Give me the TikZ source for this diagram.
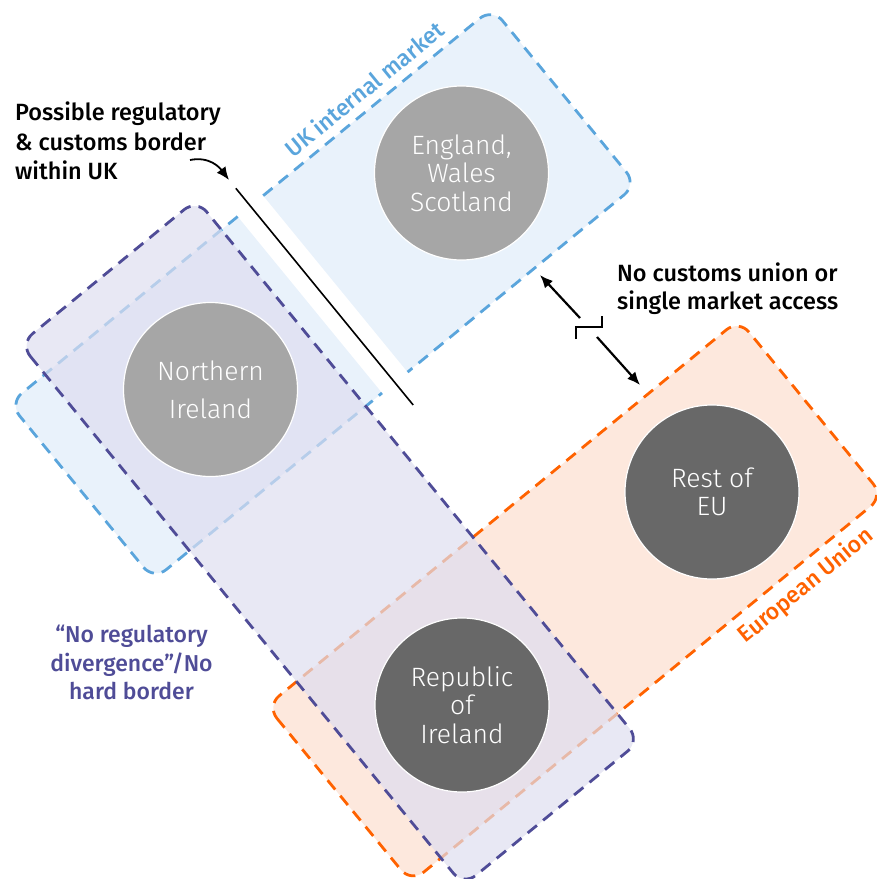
\documentclass[tikz,border=0pt]{standalone}
\usepackage{fontspec}
\setmainfont{Fira Sans}
\newfontfamily\medfont{Fira Sans Medium}
\newfontfamily\lightfont{Fira Sans Light}
\usetikzlibrary{arrows.meta}

\definecolor{ukblue}{HTML}{5AA5DC}
\definecolor{ukfill}{HTML}{E9F2FB}
\definecolor{euorange}{HTML}{FF6200}
\definecolor{eufill}{HTML}{FDE8DD}
\definecolor{nipurple}{HTML}{4F4C97}
\definecolor{nifill}{HTML}{DEDEF0}
\definecolor{lightgrey}{HTML}{A6A6A6}
\definecolor{darkgrey}{HTML}{686868}

\begin{document}
\begin{tikzpicture}[x=1pt, y=-1pt,
  dashline/.style={line width=2.8pt, dash pattern=on 12pt off 8pt, rounded corners=16pt},
  country/.style={circle, minimum size=174pt, draw=white, line width=1.2pt, text=white, align=center, font=\lightfont\fontsize{26.5}{28.5}\selectfont},
  textstyle/.style={align=left, inner sep=0pt, font=\medfont\fontsize{23.5}{29.5}\selectfont},
  tipstyle/.style={-{Latex[length=13pt,width=11pt]}, line width=2.2pt}]

  \def\tilt{39.3}

  \clip (0,0) rectangle (877,879);

  % UK internal market, cut in two
  \begin{scope}[shift={(323,294)}, rotate=\tilt]
    \filldraw[ukblue, fill=ukfill, dashline] (16,-114) -- (312,-114) -- (312,114) -- (16,114);
    \filldraw[ukblue, fill=ukfill, dashline] (-17,-114) -- (-312,-114) -- (-312,114) -- (-17,114);
    \coordinate (cuttop) at (-0.5,-137);
    \coordinate (cutbottom) at (-0.5,143);
  \end{scope}

  % European Union
  \begin{scope}[shift={(575,601)}, rotate=\tilt]
    \filldraw[euorange, fill=eufill, dashline] (-305,-114) rectangle (305,114);
  \end{scope}

  % no regulatory divergence
  \begin{scope}[shift={(330,542.5)}, rotate=\tilt]
    \fill[nifill, fill opacity=0.7, rounded corners=16pt] (-114,-350) rectangle (114,350);
    \draw[nipurple, dashline] (-114,-350) rectangle (114,350);
  \end{scope}

  \draw[line width=1.6pt] (cuttop) -- (cutbottom);

  \node[country, fill=lightgrey] (ews) at (461.5,173) {England,\\Wales\\Scotland};
  \node[country, fill=lightgrey, font=\lightfont\fontsize{26.5}{38}\selectfont] (ni) at (210.5,389.5) {Northern\\Ireland};
  \node[country, fill=darkgrey] (eu) at (712,492) {Rest of\\EU};
  \node[country, fill=darkgrey] (roi) at (462,705) {Republic\\of\\Ireland};

  \node[rotate=\tilt, text=ukblue, font=\medfont\fontsize{23}{26}\selectfont] (ukmarket) at (364,89) {UK internal market};
  \node[rotate=\tilt, text=euorange, font=\medfont\fontsize{23}{26}\selectfont] (eulabel) at (806,586) {European Union};

  \node[textstyle, anchor=north west] (border) at (15,102) {Possible regulatory\\\& customs border\\within UK};
  \node[textstyle, anchor=north west, font=\medfont\fontsize{23.5}{28}\selectfont] (access) at (617,263) {No customs union or\\single market access};
  \node[textstyle, align=center, anchor=north, text=nipurple, font=\medfont\fontsize{23}{28.5}\selectfont] (nodiv) at (131.5,625) {“No regulatory\\divergence”/No\\hard border};

  \coordinate (bendstart) at (190,160);
  \coordinate (bendend) at (229,180);
  \draw[tipstyle, line width=1.8pt] (bendstart) .. controls (210,156) and (220,168) .. (bendend);

  \coordinate (upA) at (580,318);
  \coordinate (upB) at (540,275);
  \coordinate (lowA) at (597,337);
  \coordinate (lowB) at (640,385);
  \draw[tipstyle] (upA) -- (upB);
  \draw[tipstyle] (lowA) -- (lowB);
  \draw[line width=2.2pt] (576,339) -- (576,327) -- (602,327) -- (602,316);

\end{tikzpicture}
\end{document}
